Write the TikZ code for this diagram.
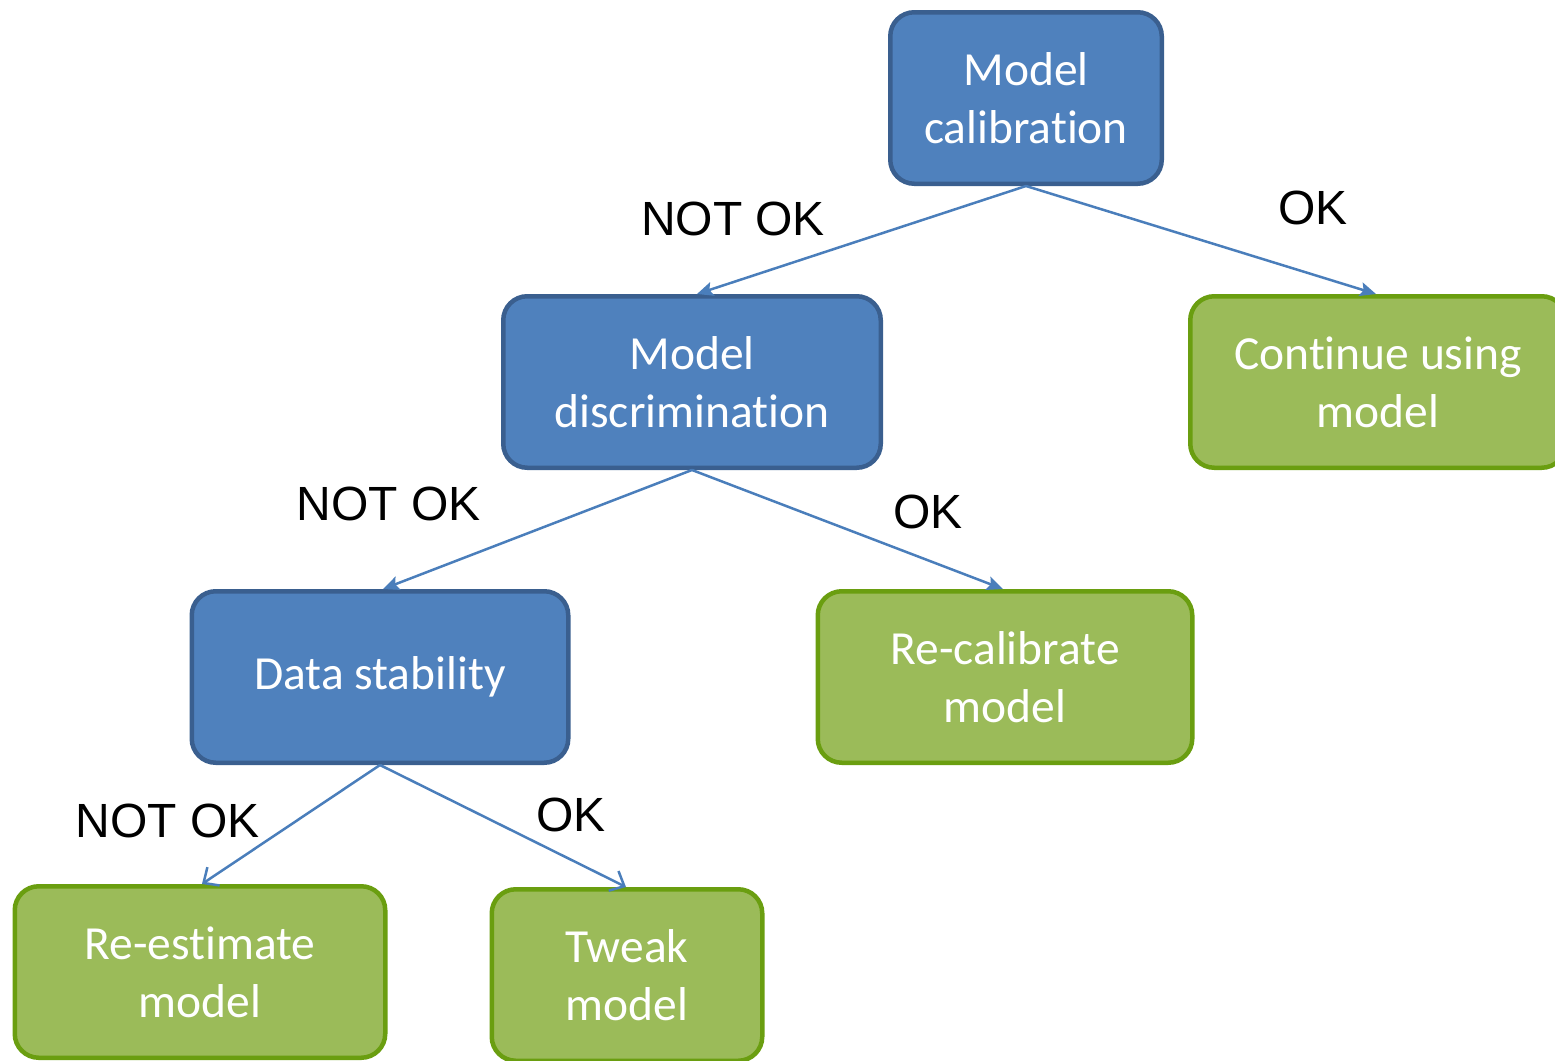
\documentclass[tikz,border=0pt]{standalone}
\usepackage{fontspec}
\setmainfont{Carlito}[Ligatures=NoCommon]
\newfontfamily\lblfont{Liberation Sans}
\usetikzlibrary{arrows.meta}
\definecolor{bfill}{HTML}{4F81BD}
\definecolor{bdraw}{HTML}{3A5F8F}
\definecolor{gfill}{HTML}{9BBB59}
\definecolor{gdraw}{HTML}{6A9E10}
\definecolor{arr}{HTML}{4A7EBB}
\begin{document}
\begin{tikzpicture}[x=1pt,y=-1pt,
  box/.style={rounded corners=24pt, line width=4.5pt, minimum height=171.5pt,
    text=white, align=center, inner sep=0pt,
    font=\fontsize{47.5}{58}\selectfont},
  bluebox/.style={box, fill=bfill, draw=bdraw},
  greenbox/.style={box, fill=gfill, draw=gdraw},
  lbl/.style={font=\lblfont\fontsize{48}{52}\selectfont, text=black},
  conn/.style={draw=arr, line width=2.5pt},
  fillarrow/.style={conn, -{Stealth[length=16pt,width=14pt,inset=3pt]}},
  openarrow/.style={conn, -{Straight Barb[length=12pt,width=22pt,line width=2.5pt]}}
]
\useasboundingbox (0,0) rectangle (1555,1060);
\clip (0,0) rectangle (1555,1060);
\node[bluebox, minimum width=271.5pt] (cal) at (1026,98) {Model\\calibration};
\node[bluebox, minimum width=377.5pt] (dis) at (692,382) {Model\\discrimination};
\node[greenbox, minimum width=375.5pt] (cont) at (1378,382) {Continue using\\model};
\node[bluebox, minimum width=376.5pt] (data) at (380,677) {Data stability};
\node[greenbox, minimum width=374.5pt] (recal) at (1005,677) {Re-calibrate\\model};
\node[greenbox, minimum width=370.5pt] (reest) at (200,972) {Re-estimate\\model};
\node[greenbox, minimum width=270.5pt] (tweak) at (627,975) {Tweak\\model};

\node[lbl] (l1) at (733,219) {NOT OK};
\node[lbl] (l2) at (1313,208) {OK};
\node[lbl] (l3) at (389,504) {NOT OK};
\node[lbl] (l4) at (928,512) {OK};
\node[lbl] (l5) at (168,821) {NOT OK};
\node[lbl] (l6) at (571,815) {OK};

\draw[fillarrow] (cal.south) -- ([xshift=5pt]dis.north);
\draw[fillarrow] (cal.south) -- ([xshift=-2pt]cont.north);
\draw[fillarrow] (dis.south) -- ([xshift=3pt]data.north);
\draw[fillarrow] (dis.south) -- ([xshift=-2pt]recal.north);
\draw[openarrow] (data.south) -- ([xshift=2pt]reest.north);
\draw[openarrow] (data.south) -- ([xshift=-1pt]tweak.north);
\end{tikzpicture}
\end{document}
